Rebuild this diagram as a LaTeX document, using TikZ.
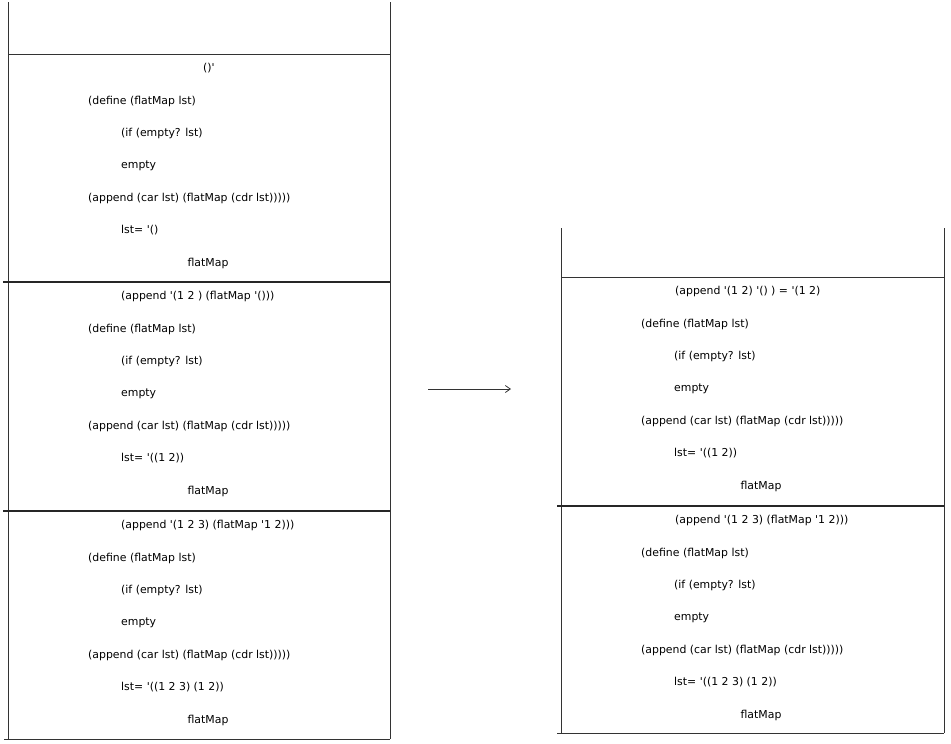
\documentclass[tikz,border=0pt]{standalone}
\usepackage{fontspec}
\newfontfamily\codefont{DejaVu Sans}
\usetikzlibrary{arrows.meta}

\begin{document}
\begin{tikzpicture}[x=1pt, y=-1pt,
  codeline/.style={anchor=west, inner sep=0pt, font=\codefont\fontsize{10.9}{13}\selectfont},
  fnname/.style={anchor=center, inner sep=0pt, font=\codefont\fontsize{10.9}{13}\selectfont},
  wall/.style={draw=black!80, line width=0.8pt},
  divider/.style={draw=black!85, line width=1.5pt}]
  \useasboundingbox (0,0) rectangle (951,744);

  \draw[wall] (8,2) -- (8,739) (390,2) -- (390,739);
  \draw[wall] (8,54) -- (390,54);
  \draw[divider] (3,282) -- (390,282) (3,511) -- (390,511);
  \draw[wall] (4,739) -- (390,739);

  \draw[wall] (561,228) -- (561,733) (944,228) -- (944,733);
  \draw[wall] (561,277) -- (944,277);
  \draw[divider] (557,506) -- (944,506);
  \draw[wall] (557,733) -- (944,733);

  \foreach \fr/\wx/\wy/\hx/\head/\lst in {
      lf1/8/54/195/{()'}/{'()},
      lf2/8/282/113/{(append '(1 2 ) (flatMap '()))}/{'((1 2))},
      lf3/8/511/113/{(append '(1 2 3) (flatMap '1 2)))}/{'((1 2 3) (1 2))},
      rf1/561/277/114/{(append '(1 2) '() ) = '(1 2)}/{'((1 2))},
      rf2/561/506/114/{(append '(1 2 3) (flatMap '1 2)))}/{'((1 2 3) (1 2))}} {
    \node[codeline] (\fr-head) at (\wx+\hx,\wy+14.5) {\head};
    \node[codeline] (\fr-define) at (\wx+80,\wy+47) {(define (flatMap lst)};
    \node[codeline] (\fr-if) at (\wx+113,\wy+79) {(if (empty? lst)};
    \node[codeline] (\fr-empty) at (\wx+113,\wy+111.5) {empty};
    \node[codeline] (\fr-append) at (\wx+80,\wy+144) {(append (car lst) (flatMap (cdr lst)))))};
    \node[codeline] (\fr-lst) at (\wx+113,\wy+176) {lst= \lst};
    \node[fnname] (\fr-name) at (\wx+200,\wy+209) {flatMap};
  }

  \coordinate (stepfrom) at (428,389);
  \coordinate (stepto) at (511,389);
  \draw[black!80, line width=0.8pt, -{Straight Barb[length=5pt, width=7pt]}] (stepfrom) -- (stepto);
\end{tikzpicture}
\end{document}
